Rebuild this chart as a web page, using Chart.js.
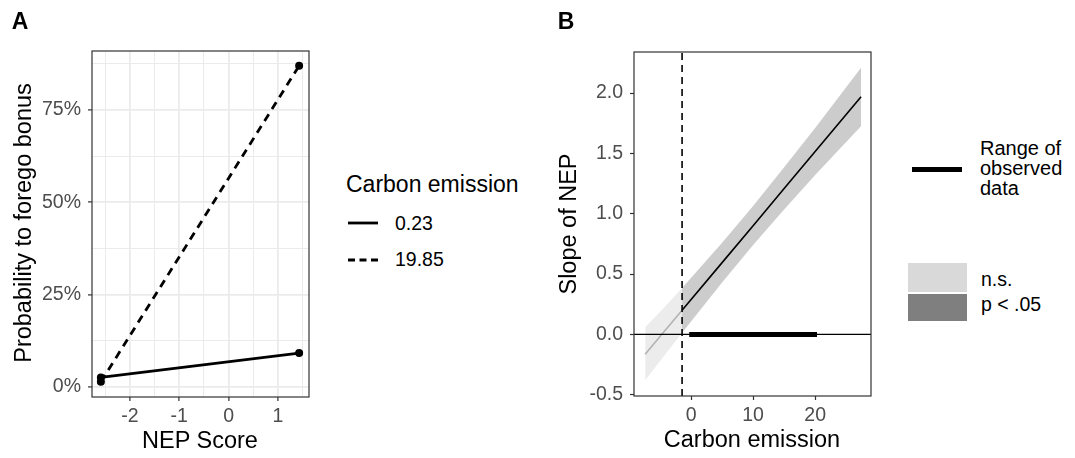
<!DOCTYPE html>
<html>
<head>
<meta charset="utf-8">
<script src="https://cdn.jsdelivr.net/npm/chart.js@4.4.1/dist/chart.umd.min.js"></script>
<style>
  html,body{margin:0;padding:0;background:#fff;}
  body{width:1075px;height:458px;position:relative;overflow:hidden;font-family:'Liberation Sans',Arial,sans-serif;}
  canvas{position:absolute;top:0;}
  .t{position:absolute;white-space:nowrap;line-height:1;color:#000;}
  .c{transform:translate(-50%,-50%);}
  .r{transform:translate(-50%,-50%) rotate(-90deg);}
  .m{transform:translateY(-50%);}
  .box{position:absolute;}
</style>
</head>
<body>
<canvas id="ca" width="320" height="458" style="left:0;width:320px;height:458px"></canvas>
<canvas id="cb" width="335" height="458" style="left:540px;width:335px;height:458px"></canvas>

<div class="t c" style="left:20px;top:21px;font-size:23px;font-weight:bold">A</div>
<div class="t c" style="left:566px;top:21px;font-size:23px;font-weight:bold">B</div>

<div class="t r" style="left:24px;top:223px;font-size:23.5px">Probability to forego bonus</div>
<div class="t c" style="left:200px;top:441px;font-size:23.5px">NEP Score</div>
<div class="t r" style="left:569px;top:224px;font-size:23.5px">Slope of NEP</div>
<div class="t c" style="left:752px;top:440px;font-size:23.5px">Carbon emission</div>

<!-- legend A -->
<div class="t m" style="left:346px;top:184px;font-size:23px">Carbon emission</div>
<svg class="box" style="left:345px;top:210px" width="40" height="60">
  <line x1="3" y1="13" x2="33" y2="13" stroke="#000" stroke-width="2.8"/>
  <line x1="3" y1="50" x2="33" y2="50" stroke="#000" stroke-width="2.8" stroke-dasharray="7 4.5"/>
</svg>
<div class="t m" style="left:395px;top:224px;font-size:19.5px">0.23</div>
<div class="t m" style="left:395px;top:260px;font-size:19.5px">19.85</div>

<!-- legend B -->
<div class="box" style="left:912px;top:166.5px;width:50px;height:5px;background:#000"></div>
<div class="t m" style="left:980px;top:148px;font-size:20px">Range of</div>
<div class="t m" style="left:980px;top:168px;font-size:20px">observed</div>
<div class="t m" style="left:980px;top:188px;font-size:20px">data</div>
<div class="box" style="left:908px;top:263px;width:59px;height:29px;background:#d9d9d9"></div>
<div class="box" style="left:908px;top:294px;width:59px;height:27px;background:#7f7f7f"></div>
<div class="t m" style="left:981px;top:280px;font-size:19.5px">n.s.</div>
<div class="t m" style="left:981px;top:305px;font-size:19.5px">p &lt; .05</div>

<script>
// ---------- Panel A data ----------
const nepScore = [-2.59, 1.43];
const probLow = [0.026, 0.092];      // carbon emission 0.23
const probHigh = [0.014, 0.870];     // carbon emission 19.85
const xTicksA = [-2.5, -2, -1.5, -1, -0.5, 0, 0.5, 1, 1.5];
const xLabelsA = [-2, -1, 0, 1];
const yTicksA = [0, 0.125, 0.25, 0.375, 0.5, 0.625, 0.75, 0.875];
const yLabelsA = [0, 0.25, 0.5, 0.75];

// ---------- Panel B data ----------
const carbonNS = [-7.4, -4.4, -1.45];
const slopeNS = [-0.165, 0.02, 0.20];
const upperNS = [0.06, 0.22, 0.385];
const lowerNS = [-0.38, -0.18, 0.015];
const carbonSig = [-1.45, 5, 10, 15, 20, 27.4];
const slopeSig = [0.20, 0.595, 0.90, 1.21, 1.515, 1.97];
const upperSig = [0.385, 0.76, 1.065, 1.385, 1.71, 2.21];
const lowerSig = [0.015, 0.43, 0.74, 1.035, 1.32, 1.725];
const observedRange = [-0.3, 20.3];
const jnPoint = -1.45;
const xTicksB = [0, 10, 20];
const yTicksB = [-0.5, 0, 0.5, 1, 1.5, 2];

const FONT = "'Liberation Sans', Arial, sans-serif";
Chart.defaults.font.family = FONT;

const pts = (xs, ys) => xs.map((x, i) => ({x: x, y: ys[i]}));

const borderPlugin = {
  id: 'panelBorder',
  afterDraw(chart) {
    const a = chart.chartArea, ctx = chart.ctx;
    ctx.save();
    ctx.strokeStyle = '#333333';
    ctx.lineWidth = 1.2;
    ctx.strokeRect(a.left, a.top, a.right - a.left, a.bottom - a.top);
    ctx.restore();
  }
};

const setTicks = arr => scale => { scale.ticks = arr.map(v => ({value: v})); };

// ---------- Chart A ----------
new Chart(document.getElementById('ca'), {
  type: 'scatter',
  data: {
    datasets: [
      {data: pts(nepScore, probLow), showLine: true, borderColor: '#000', backgroundColor: '#000',
       borderWidth: 2.8, pointRadius: 4, pointBorderWidth: 0, clip: false},
      {data: pts(nepScore, probHigh), showLine: true, borderColor: '#000', backgroundColor: '#000',
       borderWidth: 2.8, borderDash: [8, 6], pointRadius: 4, pointBorderWidth: 0, clip: false}
    ]
  },
  options: {
    responsive: false, animation: false, devicePixelRatio: 1,
    layout: {padding: {top: 51, right: 11, left: 0, bottom: 0}},
    plugins: {legend: {display: false}, tooltip: {enabled: false}},
    scales: {
      x: {
        type: 'linear', min: -2.77, max: 1.63,
        afterBuildTicks: setTicks(xTicksA),
        afterFit: s => { s.height = 61; },
        border: {display: false},
        grid: {
          color: '#ebebeb',
          lineWidth: c => xLabelsA.includes(c.tick.value) ? 1.8 : 1.0,
          tickColor: c => xLabelsA.includes(c.tick.value) ? '#333333' : 'rgba(0,0,0,0)',
          tickLength: 4, tickWidth: 1.2
        },
        ticks: {
          autoSkip: false, maxRotation: 0, padding: 4,
          color: '#4d4d4d', font: {size: 19.5},
          callback: v => xLabelsA.includes(v) ? String(v) : ''
        }
      },
      y: {
        type: 'linear', min: -0.027, max: 0.91,
        afterBuildTicks: setTicks(yTicksA),
        afterFit: s => { s.width = 92; },
        border: {display: false},
        grid: {
          color: '#ebebeb',
          lineWidth: c => yLabelsA.includes(c.tick.value) ? 1.8 : 1.0,
          tickColor: c => yLabelsA.includes(c.tick.value) ? '#333333' : 'rgba(0,0,0,0)',
          tickLength: 4, tickWidth: 1.2
        },
        ticks: {
          autoSkip: false, padding: 7,
          color: '#4d4d4d', font: {size: 19.5},
          callback: v => yLabelsA.includes(v) ? Math.round(v * 100) + '%' : ''
        }
      }
    }
  },
  plugins: [borderPlugin]
});

// ---------- Chart B ----------
const yMinB = -0.51, yMaxB = 2.34;
new Chart(document.getElementById('cb'), {
  type: 'scatter',
  data: {
    datasets: [
      // non-significant band
      {data: pts(carbonNS, upperNS), showLine: true, borderWidth: 0, pointRadius: 0,
       fill: '+1', backgroundColor: '#ececec', order: 10},
      {data: pts(carbonNS, lowerNS), showLine: true, borderWidth: 0, pointRadius: 0, order: 10},
      // significant band
      {data: pts(carbonSig, upperSig), showLine: true, borderWidth: 0, pointRadius: 0,
       fill: '+1', backgroundColor: '#cccccc', order: 9},
      {data: pts(carbonSig, lowerSig), showLine: true, borderWidth: 0, pointRadius: 0, order: 9},
      // slope lines
      {data: pts(carbonNS, slopeNS), showLine: true, borderColor: '#b3b3b3', borderWidth: 1.6, pointRadius: 0, order: 6},
      {data: pts(carbonSig, slopeSig), showLine: true, borderColor: '#000', borderWidth: 1.6, pointRadius: 0, order: 5},
      // zero line
      {data: [{x: -9.2, y: 0}, {x: 29.0, y: 0}], showLine: true, borderColor: '#000', borderWidth: 1.3, pointRadius: 0, order: 4},
      // observed range
      {data: observedRange.map(x => ({x: x, y: 0})), showLine: true, borderColor: '#000', borderWidth: 5, pointRadius: 0, order: 3},
      // Johnson-Neyman point
      {data: [{x: jnPoint, y: yMinB}, {x: jnPoint, y: yMaxB}], showLine: true, borderColor: '#000',
       borderWidth: 1.6, borderDash: [7, 5], pointRadius: 0, order: 2}
    ]
  },
  options: {
    responsive: false, animation: false, devicePixelRatio: 1,
    layout: {padding: {top: 52, right: 4, left: 0, bottom: 0}},
    plugins: {legend: {display: false}, tooltip: {enabled: false}},
    scales: {
      x: {
        type: 'linear', min: -9.2, max: 29.0,
        afterBuildTicks: setTicks(xTicksB),
        afterFit: s => { s.height = 62; },
        border: {display: false},
        grid: {drawOnChartArea: false, tickColor: '#333333', tickLength: 4, tickWidth: 1.2},
        ticks: {autoSkip: false, maxRotation: 0, padding: 4, color: '#4d4d4d', font: {size: 19.5},
                callback: v => String(v)}
      },
      y: {
        type: 'linear', min: yMinB, max: yMaxB,
        afterBuildTicks: setTicks(yTicksB),
        afterFit: s => { s.width = 94; },
        border: {display: false},
        grid: {drawOnChartArea: false, tickColor: '#333333', tickLength: 4, tickWidth: 1.2},
        ticks: {autoSkip: false, padding: 7, color: '#4d4d4d', font: {size: 19.5},
                callback: v => v.toFixed(1)}
      }
    }
  },
  plugins: [borderPlugin]
});
</script>
</body>
</html>
